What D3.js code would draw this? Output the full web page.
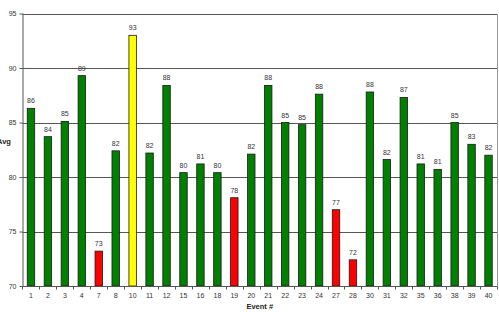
<!DOCTYPE html>
<html>
<head>
<meta charset="utf-8">
<script src="https://cdn.jsdelivr.net/npm/d3@7"></script>
<style>
  html, body { margin: 0; padding: 0; background: #fff; }
  svg { display: block; font-family: "Liberation Sans", Arial, sans-serif; }
</style>
</head>
<body>
<svg id="chart" width="499" height="312"></svg>
<script>
// event numbers on the x axis
const events = ["1", "2", "3", "4", "7", "8", "10", "11", "12", "15", "16", "18", "19", "20",
                "21", "22", "23", "24", "27", "28", "30", "31", "32", "35", "36", "38", "39", "40"];
// average per event
const avgValues = [86.3, 83.7, 85.1, 89.3, 73.2, 82.4, 93.0, 82.2, 88.4, 80.4, 81.2, 80.4, 78.1, 82.1,
                   88.4, 85.0, 84.8, 87.6, 77.0, 72.4, 87.8, 81.6, 87.3, 81.2, 80.7, 85.0, 83.0, 82.0];
// bar colour group per event: g = green, r = red, y = yellow
const groups = ["g", "g", "g", "g", "r", "g", "y", "g", "g", "g", "g", "g", "r", "g",
                "g", "g", "g", "g", "r", "r", "g", "g", "g", "g", "g", "g", "g", "g"];
const yTicks = [70, 75, 80, 85, 90, 95];

const colors = { g: "#008000", r: "#ff0000", y: "#ffff00" };
const font = "Liberation Sans, Arial, sans-serif";

const margin = { top: 13.5, right: 2, bottom: 26, left: 22.5 };
const width = 499, height = 312;
const svg = d3.select("#chart");

const x = d3.scaleBand()
    .domain(events)
    .range([margin.left, width - margin.right])
    .paddingInner(0.56)
    .paddingOuter(0.28);

const y = d3.scaleLinear()
    .domain([70, 95])
    .range([height - margin.bottom, margin.top]);

// gridlines
svg.append("g")
    .selectAll("line")
    .data(yTicks)
    .join("line")
    .attr("x1", margin.left)
    .attr("x2", width - margin.right)
    .attr("y1", d => Math.round(y(d)) + 0.5)
    .attr("y2", d => Math.round(y(d)) + 0.5)
    .attr("stroke", "#555")
    .attr("stroke-width", 1);

// right border of plot area
svg.append("line")
    .attr("x1", width - margin.right + 0.5)
    .attr("x2", width - margin.right + 0.5)
    .attr("y1", Math.round(y(95)) + 0.5)
    .attr("y2", Math.round(y(70)) + 0.5)
    .attr("stroke", "#999");

const data = events.map((e, i) => ({ event: e, value: avgValues[i], group: groups[i] }));

// bars
svg.append("g")
    .selectAll("rect")
    .data(data)
    .join("rect")
    .attr("x", d => x(d.event))
    .attr("width", x.bandwidth())
    .attr("y", d => y(d.value))
    .attr("height", d => y(70) - y(d.value))
    .attr("fill", d => colors[d.group])
    .attr("stroke", "#1a1a1a")
    .attr("stroke-width", 0.8);

// value labels
svg.append("g")
    .selectAll("text")
    .data(data)
    .join("text")
    .attr("x", d => x(d.event) + x.bandwidth() / 2)
    .attr("y", d => y(d.value) - 5)
    .attr("text-anchor", "middle")
    .attr("font-size", 7)
    .attr("font-family", font)
    .attr("fill", "#333")
    .text(d => d3.format(".0f")(d.value));

// y axis
const yAxis = svg.append("g")
    .attr("transform", `translate(${margin.left},0)`)
    .call(d3.axisLeft(y).tickValues(yTicks).tickSize(3).tickPadding(3));
yAxis.selectAll("text").attr("font-size", 7).attr("fill", "#333").attr("font-family", font);
yAxis.selectAll("line, path").attr("stroke", "#555");
yAxis.select(".domain").attr("d", `M0.5,${y(95)}V${y(70)}`);

// x axis
const xAxis = svg.append("g")
    .attr("transform", `translate(0,${Math.round(y(70)) + 0.5})`)
    .call(d3.axisBottom(x).tickSize(0).tickPadding(7));
xAxis.selectAll("text").attr("font-size", 7).attr("fill", "#333").attr("font-family", font);
xAxis.select(".domain").attr("stroke", "#555")
    .attr("d", `M${margin.left},0H${width - margin.right}`);
// tick marks between categories
const step = x.step();
const start = x(events[0]) - x.paddingInner() * step / 2;
const bounds = d3.range(events.length + 1).map(i => start + i * step);
xAxis.append("g")
    .selectAll("line")
    .data(bounds)
    .join("line")
    .attr("x1", d => Math.round(d) + 0.5)
    .attr("x2", d => Math.round(d) + 0.5)
    .attr("y1", 0)
    .attr("y2", 3)
    .attr("stroke", "#555");

// axis titles
svg.append("text")
    .attr("x", (margin.left + width - margin.right) / 2)
    .attr("y", 309)
    .attr("text-anchor", "middle")
    .attr("font-size", 7.5)
    .attr("font-weight", "bold")
    .attr("font-family", font)
    .attr("fill", "#222")
    .text("Event #");

svg.append("text")
    .attr("x", -3)
    .attr("y", 143.5)
    .attr("font-size", 7.5)
    .attr("font-weight", "bold")
    .attr("font-family", font)
    .attr("fill", "#222")
    .text("Avg");
</script>
</body>
</html>
